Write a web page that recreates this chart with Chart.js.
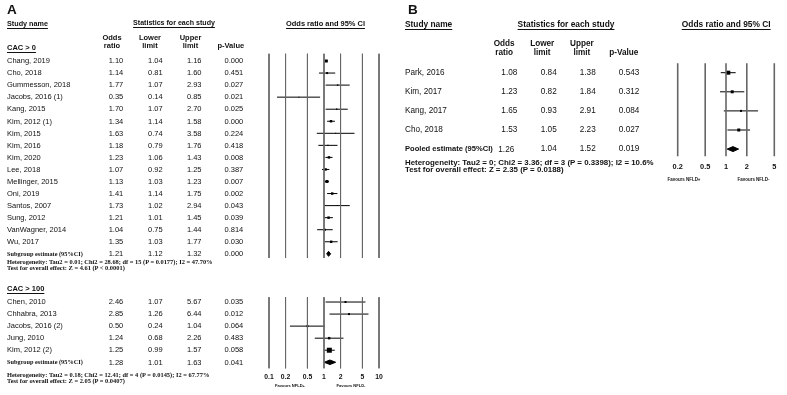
<!DOCTYPE html>
<html><head><meta charset="utf-8">
<script src="https://cdn.jsdelivr.net/npm/chart.js@4"></script>
<style>
html,body{margin:0;padding:0;background:#fff;}
#wrap{position:relative;width:787px;height:395px;overflow:hidden;background:#fff;}
canvas{position:absolute;left:0;top:0;}
.t{position:absolute;white-space:nowrap;color:#111;}
</style></head><body>
<div id="wrap"><canvas id="cA" width="787" height="395" style="width:787px;height:395px"></canvas><canvas id="cB" width="787" height="395" style="width:787px;height:395px"></canvas></div>
<script>
// ---------------- DATA: panel A, CAC > 0 ----------------
const namesA1 = ['Chang, 2019','Cho, 2018','Gummesson, 2018','Jacobs, 2016 (1)','Kang, 2015','Kim, 2012 (1)','Kim, 2015','Kim, 2016','Kim, 2020','Lee, 2018','Mellinger, 2015','Oni, 2019','Santos, 2007','Sung, 2012','VanWagner, 2014','Wu, 2017'];
const orA1 = [1.10,1.14,1.77,0.35,1.70,1.34,1.63,1.18,1.23,1.07,1.13,1.41,1.73,1.21,1.04,1.35];
const loA1 = [1.04,0.81,1.07,0.14,1.07,1.14,0.74,0.79,1.06,0.92,1.03,1.14,1.02,1.01,0.75,1.03];
const hiA1 = [1.16,1.60,2.93,0.85,2.70,1.58,3.58,1.76,1.43,1.25,1.23,1.75,2.94,1.45,1.44,1.77];
const pA1  = [0.000,0.451,0.027,0.021,0.025,0.000,0.224,0.418,0.008,0.387,0.007,0.002,0.043,0.039,0.814,0.030];
const wA1  = [9,4,2,1,2,6,1,2,6,6,9,6,1,6,4,6];
const subA1 = [1.21,1.12,1.32,0.000];
const hetA1 = ['Heterogeneity: Tau2 = 0.01; Chi2 = 28.68; df = 15 (P = 0.0177); I2 = 47.70%','Test for overall effect: Z = 4.61 (P < 0.0001)'];
// ---------------- DATA: panel A, CAC > 100 ----------------
const namesA2 = ['Chen, 2010','Chhabra, 2013','Jacobs, 2016 (2)','Jung, 2010','Kim, 2012 (2)'];
const orA2 = [2.46,2.85,0.50,1.24,1.25];
const loA2 = [1.07,1.26,0.24,0.68,0.99];
const hiA2 = [5.67,6.44,1.04,2.26,1.57];
const pA2  = [0.035,0.012,0.064,0.483,0.058];
const wA2  = [4,4,4,6,25];
const subA2 = [1.28,1.01,1.63,0.041];
const hetA2 = ['Heterogeneity: Tau2 = 0.18; Chi2 = 12.41; df = 4 (P = 0.0145); I2 = 67.77%','Test for overall effect: Z = 2.05 (P = 0.0407)'];
const ticksA = [0.1,0.2,0.5,1,2,5,10];
const tickLabA = ['0.1','0.2','0.5','1','2','5','10'];
// ---------------- DATA: panel B ----------------
const namesB = ['Park, 2016','Kim, 2017','Kang, 2017','Cho, 2018'];
const orB = [1.08,1.23,1.65,1.53];
const loB = [0.84,0.82,0.93,1.05];
const hiB = [1.38,1.84,2.91,2.23];
const pB  = [0.543,0.312,0.084,0.027];
const wB  = [16,9,4,9];
const pooledB = [1.26,1.04,1.52,0.019];
const hetB = ['Heterogeneity: Tau2 = 0; Chi2 = 3.36; df = 3 (P = 0.3398); I2 = 10.6%','Test for overall effect: Z = 2.35 (P = 0.0188)'];
const ticksB = [0.2,0.5,1,2,5];
const tickLabB = ['0.2','0.5','1','2','5'];

// ---------------- helpers ----------------
const SANS = '"Liberation Sans", Arial, Helvetica, sans-serif';
const SERIF = '"Liberation Serif", "Times New Roman", serif';
const wrap = document.getElementById('wrap');
function T(str, x, y, o = {}) {
  const d = document.createElement('div');
  d.className = 't';
  d.textContent = str;
  let size = o.size || 7.5;
  const fam = o.family || SANS;
  const setFont = s => { d.style.font = (o.bold ? 'bold ' : '') + s + 'px ' + fam; d.style.lineHeight = s + 'px'; d.style.top = (y - 0.5 * s) + 'px'; };
  setFont(size);
  if (o.ul) { d.style.textDecoration = 'underline'; d.style.textUnderlineOffset = '1.5px'; }
  wrap.appendChild(d);
  if (o.w) { const w0 = d.getBoundingClientRect().width; size = size * o.w / w0; setFont(size); }
  const w = d.getBoundingClientRect().width;
  const a = o.align || 'left';
  d.style.left = (a === 'left' ? x : a === 'right' ? x - w : x - w / 2) + 'px';
  return size;
}
const f2 = v => v.toFixed(2), f3 = v => v.toFixed(3);
const side = w => Math.sqrt(w) / Math.SQRT2;  // rect radius from weight

function lineDs(pts, color, width) {
  return { type: 'line', data: pts, borderColor: color, borderWidth: width, pointRadius: 0, fill: false, tension: 0, clip: false };
}
function diamondDs(v, r, h) {
  return { type: 'line', data: [{x:v[1],y:r},{x:v[0],y:r-h},{x:v[2],y:r},{x:v[0],y:r+h},{x:v[1],y:r}],
    borderColor: '#000', backgroundColor: '#000', borderWidth: 1, pointRadius: 0, fill: 'shape', tension: 0, clip: false };
}
const AXH = 16; // fixed height reserved for the x axis
function xScale(min, max, ticks, labels, pad, fsize) {
  return { type: 'logarithmic', min, max, position: 'bottom',
    grid: { display: false, drawTicks: false }, border: { display: false },
    afterBuildTicks: s => { s.ticks = ticks.map(v => ({ value: v })); },
    afterFit: s => { s.height = AXH; },
    ticks: { autoSkip: false, maxRotation: 0, minRotation: 0, padding: pad, color: '#111',
      font: { family: SANS, weight: 'bold', size: fsize }, callback: (v, i) => labels[i] } };
}

// ---------------- Chart A ----------------
const rowA2 = namesA1.length + 4; // first row of second group
const dsA = [];
ticksA.forEach(t => {
  dsA.push(lineDs([{x:t,y:-0.6},{x:t,y:namesA1.length+0.35}], '#666', 1));
  dsA.push(lineDs([{x:t,y:rowA2-0.4},{x:t,y:rowA2+namesA2.length+0.5}], '#666', 1));
});
namesA1.forEach((n,i) => dsA.push(lineDs([{x:loA1[i],y:i},{x:hiA1[i],y:i}], '#000', 1)));
namesA2.forEach((n,i) => dsA.push(lineDs([{x:loA2[i],y:rowA2+i},{x:hiA2[i],y:rowA2+i}], '#000', 1)));
dsA.push({ type: 'scatter', data: orA1.map((v,i)=>({x:v,y:i})).concat(orA2.map((v,i)=>({x:v,y:rowA2+i}))),
  pointStyle: 'rect', pointRadius: wA1.concat(wA2).map(side), backgroundColor: '#000', borderWidth: 0, clip: false });
dsA.push(diamondDs(subA1, namesA1.length, 0.21));
dsA.push(diamondDs(subA2, rowA2 + namesA2.length, 0.19));

const chartA = new Chart(document.getElementById('cA'), {
  type: 'scatter',
  data: { datasets: dsA },
  options: {
    responsive: false, animation: false, devicePixelRatio: 1, events: [],
    layout: { padding: { left: 269, right: 408, top: 53.77, bottom: 26.7 - AXH } },
    plugins: { legend: { display: false }, tooltip: { enabled: false } },
    scales: { x: xScale(0.1, 10, ticksA, tickLabA, 4.3, 6.8),
              y: { type: 'linear', display: false, reverse: true, min: -0.6, max: 25.5 } }
  }
});

// ---------------- Chart B ----------------
const dsB = [];
ticksB.forEach(t => dsB.push(lineDs([{x:t,y:-0.5},{x:t,y:4.38}], '#666', 1.6)));
namesB.forEach((n,i) => dsB.push(lineDs([{x:loB[i],y:i},{x:hiB[i],y:i}], '#000', 1)));
dsB.push({ type: 'scatter', data: orB.map((v,i)=>({x:v,y:i})), pointStyle: 'rect', pointRadius: wB.map(side),
  backgroundColor: '#000', borderWidth: 0, clip: false });
dsB.push(diamondDs(pooledB, namesB.length, 0.13));
const chartB = new Chart(document.getElementById('cB'), {
  type: 'scatter',
  data: { datasets: dsB },
  options: {
    responsive: false, animation: false, devicePixelRatio: 1, events: [],
    layout: { padding: { left: 677.7, right: 12.7, top: 63.15, bottom: 238.64 - AXH } },
    plugins: { legend: { display: false }, tooltip: { enabled: false } },
    scales: { x: xScale(0.2, 5, ticksB, tickLabB, 5.7, 7.4),
              y: { type: 'linear', display: false, reverse: true, min: -0.5, max: 4.38 } }
  }
});

// ---------------- Text: panel A ----------------
const yA = r => chartA.scales.y.getPixelForValue(r);
const colA = [123.3, 162.7, 201.5, 243.3];
const FA = 7.5;
T('A', 7, 9.5, { size: 13.5, bold: true });
T('Study name', 7, 23.3, { bold: true, ul: true, w: 41 });
T('Statistics for each study', 174, 23.3, { bold: true, ul: true, w: 82, align: 'center' });
T('Odds ratio and 95% CI', 325.5, 23.3, { bold: true, ul: true, w: 79, align: 'center' });
T('Odds', 112, 37.7, { bold: true, size: FA, align: 'center' });
T('ratio', 112, 46, { bold: true, size: FA, align: 'center' });
T('Lower', 150, 37.7, { bold: true, size: FA, align: 'center' });
T('limit', 150, 46, { bold: true, size: FA, align: 'center' });
T('Upper', 190.5, 37.7, { bold: true, size: FA, align: 'center' });
T('limit', 190.5, 46, { bold: true, size: FA, align: 'center' });
T('p-Value', 230.8, 46, { bold: true, size: FA, align: 'center' });
T('CAC > 0', 7, 48, { bold: true, ul: true, size: FA });
function rowsA(names, or, lo, hi, p, r0) {
  names.forEach((n, i) => {
    const y = yA(r0 + i);
    T(n, 7, y, { size: FA });
    [f2(or[i]), f2(lo[i]), f2(hi[i]), f3(p[i])].forEach((s, k) => T(s, colA[k], y, { size: FA, align: 'right' }));
  });
  return yA(r0 + names.length);
}
const ys1 = rowsA(namesA1, orA1, loA1, hiA1, pA1, 0);
const subSize = T('Subgroup estimate (95%CI)', 7, ys1, { bold: true, family: SERIF, w: 76 });
[f2(subA1[0]), f2(subA1[1]), f2(subA1[2]), f3(subA1[3])].forEach((s, k) => T(s, colA[k], ys1, { size: FA, align: 'right' }));
const hetSize = T(hetA1[0], 7, 262.2, { bold: true, family: SERIF, w: 206 });
T(hetA1[1], 7, 268.0, { bold: true, family: SERIF, size: hetSize });
T('CAC > 100', 7, 289, { bold: true, ul: true, size: FA });
const ys2 = rowsA(namesA2, orA2, loA2, hiA2, pA2, rowA2);
T('Subgroup estimate (95%CI)', 7, ys2, { bold: true, family: SERIF, size: subSize });
[f2(subA2[0]), f2(subA2[1]), f2(subA2[2]), f3(subA2[3])].forEach((s, k) => T(s, colA[k], ys2, { size: FA, align: 'right' }));
T(hetA2[0], 7, 375.6, { bold: true, family: SERIF, size: hetSize });
T(hetA2[1], 7, 381.4, { bold: true, family: SERIF, size: hetSize });
const favSize = T('Favours NFLD+', 290, 385.7, { bold: true, w: 30, align: 'center' });
T('Favours NFLD-', 351, 385.7, { bold: true, size: favSize, align: 'center' });

// ---------------- Text: panel B ----------------
const yB = r => chartB.scales.y.getPixelForValue(r);
const colB = [517.3, 556.7, 595.7, 639.3];
const FB = 8.2;
T('B', 408, 9.5, { size: 13.5, bold: true });
T('Study name', 405, 24.4, { bold: true, ul: true, w: 47.3 });
T('Statistics for each study', 566, 24.4, { bold: true, ul: true, w: 97, align: 'center' });
T('Odds ratio and 95% CI', 726.2, 24.4, { bold: true, ul: true, w: 89, align: 'center' });
T('Odds', 504.2, 43.7, { bold: true, size: FB, align: 'center' });
T('ratio', 504.2, 53, { bold: true, size: FB, align: 'center' });
T('Lower', 542.2, 43.7, { bold: true, size: FB, align: 'center' });
T('limit', 542.2, 53, { bold: true, size: FB, align: 'center' });
T('Upper', 581.8, 43.7, { bold: true, size: FB, align: 'center' });
T('limit', 581.8, 53, { bold: true, size: FB, align: 'center' });
T('p-Value', 623.8, 53, { bold: true, size: FB, align: 'center' });
namesB.forEach((n, i) => {
  const y = yB(i);
  T(n, 405, y, { size: FB });
  [f2(orB[i]), f2(loB[i]), f2(hiB[i]), f3(pB[i])].forEach((s, k) => T(s, colB[k], y, { size: FB, align: 'right' }));
});
const yp = yB(namesB.length);
T('Pooled estimate (95%CI)', 405, yp, { bold: true, w: 88 });
T(f2(pooledB[0]), 498.3, yp + 0.6, { size: FB });
[f2(pooledB[1]), f2(pooledB[2]), f3(pooledB[3])].forEach((s, k) => T(s, colB[k + 1], yp, { size: FB, align: 'right' }));
const hbs = T(hetB[0], 405, 162.8, { bold: true, w: 249 });
T(hetB[1], 405, 169.9, { bold: true, size: hbs });
const fb = T('Favours NFLD+', 684, 180.7, { bold: true, w: 33, align: 'center' });
T('Favours NFLD-', 753.5, 180.7, { bold: true, size: fb, align: 'center' });
</script>
</body></html>
